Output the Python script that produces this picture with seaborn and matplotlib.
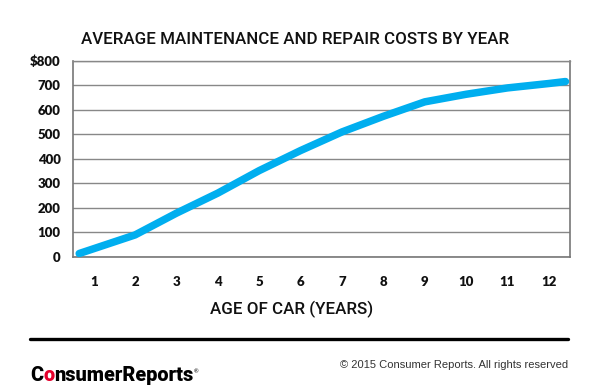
import matplotlib.pyplot as plt
import seaborn as sns
import pandas as pd

# age of car (line runs a bit past the first and last year bands)
age = [0.65, 2, 3, 4, 5, 6, 7, 8, 9, 10, 11, 12, 12.4]
cost = [13, 89, 178, 260, 352, 434, 510, 574, 633, 664, 690, 708, 716]
year_labels = [str(i) for i in range(1, 13)]
y_ticks = [0, 100, 200, 300, 400, 500, 600, 700, 800]
y_labels = ["0", "100", "200", "300", "400", "500", "600", "700", "$800"]

df = pd.DataFrame({"age": age, "cost": cost})

sns.set_style("white")
plt.rcParams["font.family"] = ["Lato", "DejaVu Sans"]

fig = plt.figure(figsize=(5.98, 3.91), dpi=100)
ax = fig.add_axes([73 / 598, 1 - 256.7 / 391, (569.6 - 73) / 598, (256.7 - 61) / 391])

sns.lineplot(data=df, x="age", y="cost", ax=ax, color="#00aeef", linewidth=5.4,
             solid_capstyle="round", zorder=3)

ax.set_xlim(0.5, 12.5)
ax.set_ylim(0, 800)
ax.set_yticks(y_ticks)
ax.set_yticklabels(y_labels, fontweight="heavy", fontsize=9.5, color="#111111")
ax.set_xticks(range(1, 13))
ax.set_xticklabels(year_labels, fontweight="heavy", fontsize=9.5, color="#111111")
ax.set_xticks([i + 0.5 for i in range(1, 12)], minor=True)
ax.tick_params(axis="x", which="major", length=0, pad=14)
ax.tick_params(axis="x", which="minor", length=4, width=1, direction="in", color="#777777")
ax.tick_params(axis="y", length=0, pad=9)
ax.grid(axis="y", color="#888888", linewidth=1)
ax.set_axisbelow(True)
for s in ["left", "right", "bottom"]:
    ax.spines[s].set_color("#777777")
    ax.spines[s].set_linewidth(1.2)
ax.spines["top"].set_color("#888888")
ax.spines["top"].set_linewidth(1)
ax.set_xlabel("")
ax.set_ylabel("")

fig.text(81 / 598, 1 - 40 / 391, "AVERAGE MAINTENANCE AND REPAIR COSTS BY YEAR",
         fontsize=12.2, fontweight="medium", color="#111111", va="center", ha="left",
         family=["Roboto", "DejaVu Sans"])
fig.text(292 / 598, 1 - 309 / 391, "AGE OF CAR (YEARS)",
         fontsize=12.2, fontweight="medium", color="#111111", va="center", ha="center",
         family=["Roboto", "DejaVu Sans"])

fig.add_artist(plt.Line2D([30 / 598, 568 / 598], [1 - 338.5 / 391] * 2,
                          color="black", linewidth=2.4))

# logo
logo_font = dict(fontsize=14.3, fontweight="black",
                 family=["Roboto", "DejaVu Sans"], va="bottom")
t1 = fig.text(30 / 598, 1 - 385 / 391, "C", color="black", **logo_font)
t2 = ax.annotate("o", xy=(1, 0), xycoords=t1, color="#e4002b",
                 annotation_clip=False, **logo_font)
t3 = ax.annotate("nsumerReports", xy=(1, 0), xycoords=t2, color="black",
                 annotation_clip=False, **logo_font)
ax.annotate("®", xy=(1.0, 0.62), xycoords=t3, fontsize=4, color="black",
            annotation_clip=False)

fig.text(568 / 598, 1 - 365.5 / 391, "© 2015 Consumer Reports. All rights reserved",
         fontsize=8, color="#333333", ha="right", va="center",
         family=["Liberation Sans", "DejaVu Sans"])

fig.savefig("out.png", dpi=100)
